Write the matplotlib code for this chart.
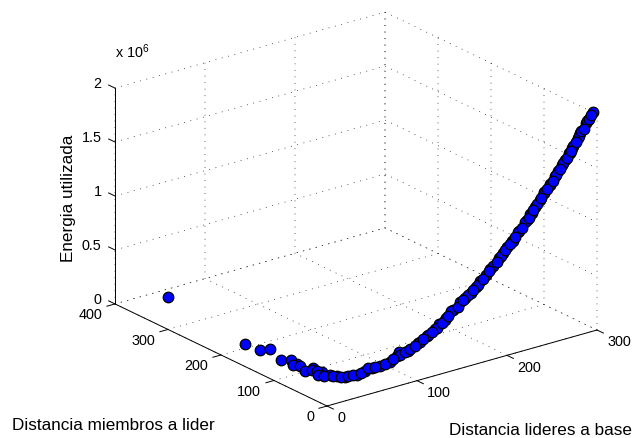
import numpy as np
import matplotlib
matplotlib.use('Agg')
import matplotlib.pyplot as plt
from mpl_toolkits.mplot3d import proj3d

plt.rcParams['font.family'] = ['Liberation Sans', 'DejaVu Sans']
plt.rcParams['mathtext.fontset'] = 'custom'
plt.rcParams['mathtext.rm'] = 'Liberation Sans'
plt.rcParams['mathtext.default'] = 'regular'
plt.rcParams['grid.color'] = 'black'
plt.rcParams['grid.linewidth'] = 0.5
plt.rcParams['grid.linestyle'] = (0, (1.2, 8.2))
plt.rcParams['axes.linewidth'] = 0.7

# points hidden deepest in the band
lider_base_deep = [100,111,120,128,133,140,148,160,166,172,177,187,196,200,205,210,218,226,230,235,240,245,251,256,260,264,267,272,275,281,284,290,292]
miembros_lider_deep = [17,16,15,14,14,13,13,12,11,11,11,10,9,8,8,7,7,7,7,6,6,6,5,5,5,5,5,4,4,4,4,3,3]
energia_deep = [0.232,0.285,0.335,0.378,0.41,0.457,0.507,0.598,0.635,0.675,0.716,0.803,0.888,0.928,0.97,1.02,1.095,1.18,1.225,1.28,1.335,1.39,1.455,1.515,1.56,1.605,1.64,1.7,1.74,1.81,1.85,1.93,1.955]
# points lying behind in the band
lider_base_back = [33.6,36.2,36.4,38.3,40.7,44.1,51.8,58.8,64.9,72.7,82.2,88.8,91.5,92.1,97.2,102.2,112.5,121.3,130.1,138.9,145.9,155.4,163.5,174.1,182.2,189.2,198.0,210.6,216.7,223.9,231.1,237.2,244.4,250.2,257.3,265.3,271.4,276.0,282.5,285.0,291.1,297.0,293.3]
miembros_lider_back = [114,87,72,59,50,41,32,28,26,24,21,19,19,19,18,17,16,15,14,13,13,12,11,10,9,9,8,7,7,7,6,6,6,5,5,5,4,4,4,4,3,3,3]
energia_back = [0.04,0.058,0.057,0.057,0.062,0.065,0.09,0.123,0.135,0.147,0.169,0.206,0.238,0.212,0.23,0.248,0.289,0.338,0.381,0.443,0.511,0.568,0.618,0.688,0.764,0.829,0.909,1.02,1.083,1.16,1.23,1.3,1.383,1.447,1.524,1.617,1.702,1.754,1.832,1.873,1.952,2.016,1.962]
# points on top
lider_base = [37.9,29.6,31.2,39.4,31.0,33.6,33.8,33.6,35.0,36.6,36.3,35.7,36.7,39.4,41.7,46.0,49.2,55.1,61.8,68.1,77.4,85.4,107.2,115.8,124.6,135.1,142.4,152.3,157.9,169.0,179.6,185.3,193.3,202.8,207.5,213.0,220.5,228.0,232.8,241.6,247.1,253.7,261.8,269.4,273.1,279.0,287.3,294.8]
miembros_lider = [365,205,180,175,140,125,121,108,101,91,81,77,68,55,45,38,34,30,27,25,22,20,16,15,14,13,13,12,11,11,10,9,8,8,7,7,7,6,6,6,5,5,5,4,4,4,3,3]
energia = [0.058,0.023,0.023,0.025,0.025,0.055,0.016,0.034,0.005,0.034,0.052,0.022,0.028,0.06,0.063,0.078,0.092,0.104,0.141,0.14,0.153,0.188,0.269,0.312,0.358,0.419,0.472,0.528,0.583,0.653,0.733,0.791,0.866,0.948,0.995,1.045,1.115,1.197,1.254,1.346,1.416,1.479,1.57,1.66,1.713,1.784,1.889,1.996]

x_ticks = [0, 100, 200, 300]
y_ticks = [0, 100, 200, 300, 400]
z_ticks = [0, 0.5e6, 1e6, 1.5e6, 2e6]
z_labels = ['0', '0.5', '1', '1.5', '2']

W, H = 632, 439
fig = plt.figure(figsize=(W/100, H/100), dpi=100)
ax = fig.add_axes([0, 0, H/W, 1], projection='3d', proj_type='ortho')
ax.computed_zorder = False
ax.view_init(elev=21.6, azim=-127.4)
ax.set_box_aspect((1, 1.027, 0.683))
ax.set_xlim(0, 300, view_margin=0)
ax.set_ylim(0, 400, view_margin=0)
ax.set_zlim(0, 2e6, view_margin=0)
ax.set_xticks(x_ticks)
ax.set_yticks(y_ticks)
ax.set_zticks(z_ticks, z_labels)
ax.tick_params(labelsize=10.4, pad=0)
ax.xaxis.set_tick_params(pad=1.5)
ax.yaxis.set_tick_params(pad=1.5)
ax.zaxis.set_tick_params(pad=-2.5)
for a, h in ((ax.xaxis, 'left'), (ax.yaxis, 'right'), (ax.zaxis, 'right')):
    for t in a.get_majorticklabels():
        t.set_ha(h)
        t.set_va('baseline')
for a in (ax.xaxis, ax.yaxis, ax.zaxis):
    a.set_pane_color((1, 1, 1, 0))
    a.pane.set_edgecolor((1, 1, 1, 0))
    a.line.set_color('black')
    a.line.set_linewidth(0.7)
    a._axinfo['tick']['inward_factor'] = 0.0
    a._axinfo['tick']['outward_factor'] = 0.0
ax.grid(True)
tick = dict(color='black', lw=0.7, zorder=3)
for v in x_ticks:
    ax.plot([v, v], [0, -12], [0, 0], **tick)
for v in y_ticks:
    ax.plot([0, -9], [v, v], [0, 0], **tick)
for v in z_ticks:
    ax.plot([0, 0], [400, 412], [v, v], **tick)
style = dict(ls='none', marker='o', ms=7.6, mfc='#0000ff', mec='black', mew=0.9)
ax.plot(lider_base_deep, miembros_lider_deep, np.array(energia_deep)*1e6, zorder=4, **style)
ax.plot(lider_base_back, miembros_lider_back, np.array(energia_back)*1e6, zorder=5, **style)
ax.plot(lider_base, miembros_lider, np.array(energia)*1e6, zorder=6, **style)

def corner(x, y, z):
    ax.apply_aspect()
    p = proj3d.proj_transform(x, y, z, ax.get_proj())
    return ax.transData.transform((p[0], p[1]))

pO, pX, pY = corner(0, 0, 0), corner(300, 0, 0), corner(0, 400, 0)
pos = ax.get_position()
s = (597 - 115) / (pX[0] - pY[0])
left, bot, side = pos.x0*W, pos.y0*H, pos.width*W
newleft = 327 - (pO[0]-left)*s
newbot = (H-407) - (pO[1]-bot)*s
ax.set_position([newleft/W, newbot/H, side*s/W, side*s/H])

fig.text(115/W, 1-52/H, 'x 10$^{6}$', fontsize=10.4, ha='left', va='center')
fig.text(68/W, 1-198/H, 'Energia utilizada', fontsize=12.3, rotation=90, ha='center', va='center')
fig.text(12/W, 1-426/H, 'Distancia miembros a lider', fontsize=12.3, ha='left', va='center')
fig.text(449/W, 1-431/H, 'Distancia lideres a base', fontsize=12.3, ha='left', va='center')
fig.savefig('out.png', dpi=100)
